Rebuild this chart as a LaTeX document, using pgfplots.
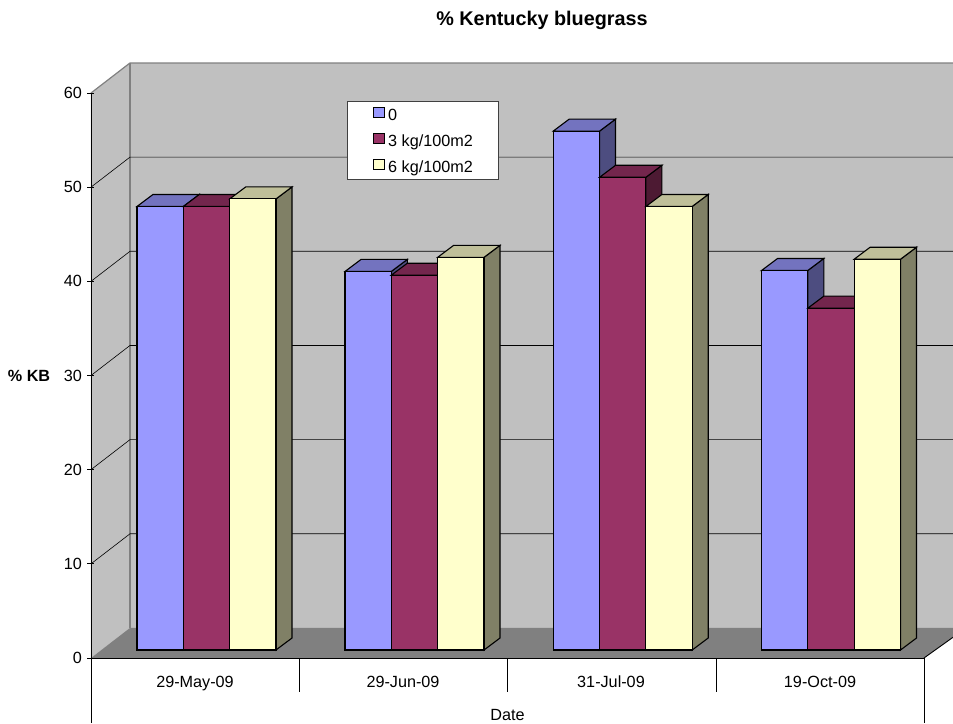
\documentclass[border=0pt]{standalone}
\usepackage{fontspec}
\setmainfont{Liberation Sans}
\usepackage{pgfplots}
\pgfplotsset{compat=1.18}

\definecolor{bluefront}{HTML}{9999FF}
\definecolor{bluetop}{HTML}{7373BF}
\definecolor{blueside}{HTML}{4D4D80}
\definecolor{wine}{HTML}{993366}
\definecolor{winetop}{HTML}{73264D}
\definecolor{wineside}{HTML}{4D1A33}
\definecolor{creamfront}{HTML}{FFFFCC}
\definecolor{creamtop}{HTML}{BFBF99}
\definecolor{creamside}{HTML}{808066}
\definecolor{wall}{HTML}{C0C0C0}
\definecolor{floorgrey}{HTML}{808080}
\colorlet{winefront}{wine}

% depth of a bar (16 x-units, 12 px = 1.274 y-units); bars stand 0.85 above the front plane
\newcommand{\drawbar}[3]{% left edge, value, colour stem
  \pgfmathsetmacro\xl{#1}
  \pgfmathsetmacro\xr{#1+46.3}
  \pgfmathsetmacro\xld{#1+16}
  \pgfmathsetmacro\xrd{#1+46.3+16}
  \pgfmathsetmacro\yb{0.85}
  \pgfmathsetmacro\yt{#2+0.85}
  \pgfmathsetmacro\ybd{0.85+1.274}
  \pgfmathsetmacro\ytd{#2+0.85+1.274}
  \edef\barpaths{%
    \noexpand\addplot[forget plot,draw=black,line width=1.1pt,line join=miter,fill=#3side]
      coordinates {(\xr,\yb)(\xrd,\ybd)(\xrd,\ytd)(\xr,\yt)} --cycle;
    \noexpand\addplot[forget plot,draw=black,line width=1.1pt,line join=miter,fill=#3top]
      coordinates {(\xl,\yt)(\xr,\yt)(\xrd,\ytd)(\xld,\ytd)} --cycle;
    \noexpand\addplot[forget plot,draw=black,line width=1.1pt,line join=miter,fill=#3front]
      coordinates {(\xl,\yb)(\xr,\yb)(\xr,\yt)(\xl,\yt)} --cycle;
  }%
  \barpaths
}
% legend text cell of fixed width and height
\newcommand{\legtext}[1]{\makebox[105pt][l]{\rule[-2.5pt]{0pt}{16.5pt}#1}}

\begin{document}
\begin{tikzpicture}
\useasboundingbox (-91pt,-65pt) rectangle (862pt,658pt);
\begin{axis}[
  at={(0,0)}, anchor=south west,
  scale only axis, width=862pt, height=565pt,
  xmin=91, xmax=953, ymin=0, ymax=60,
  clip=false, axis on top,
  axis y line=left, axis x line=bottom,
  x axis line style={draw=none,-},
  y axis line style={-,black,line width=0.9pt},
  ytick={0,10,...,60},
  major tick length=7pt,
  ytick style={black,line width=0.9pt},
  xtick={195,403,611,820},
  xticklabels={29-May-09,29-Jun-09,31-Jul-09,19-Oct-09},
  xtick style={draw=none},
  tick label style={font=\fontsize{16.2}{18}\selectfont},
  x tick label style={yshift=-11pt},
  /pgf/number format/assume math mode=true,
  yticklabel style={xshift=-2pt},
  title={\bfseries\fontsize{19.8}{22}\selectfont \% Kentucky bluegrass},
  title style={at={(axis description cs:0.5232,1.1185)},anchor=center},
  xlabel={Date},
  xlabel style={at={(axis description cs:0.4832,-0.1009)},anchor=center,font=\fontsize{16.2}{18}\selectfont},
  ylabel={\bfseries \% KB},
  ylabel style={at={(axis description cs:-0.0719,0.5)},anchor=center,rotate=-90,font=\fontsize{16.2}{18}\selectfont},
  legend cell align=left,
  legend style={at={(axis cs:347,59.15)},anchor=north west,draw=black!75,fill=white,line width=0.8pt,
    inner xsep=3pt,inner ysep=3.5pt,font=\fontsize{16.2}{18}\selectfont,row sep=6.5pt,
    /tikz/every even column/.append style={column sep=0pt}},
  legend image code/.code={\path (0pt,0pt) (35pt,0pt);\draw[#1,draw=black,line width=0.9pt] (23pt,-3pt) rectangle (34pt,7pt);},
]
% side wall, back wall and floor
\addplot[forget plot,draw=none,fill=wall] coordinates {(91,0)(130,3.08)(130,63.19)(91,60)} --cycle;
\addplot[forget plot,draw=none,fill=wall] coordinates {(130,3.19)(953,3.19)(953,63.19)(130,63.19)} --cycle;
\addplot[forget plot,draw=none,fill=floorgrey] coordinates {(91,0)(924,0)(953,2.2)(953,3.19)(130,3.19)} --cycle;
% wall edges
\addplot[forget plot,color=floorgrey,line width=1.2pt] coordinates {(91,60)(130,63.19)(953,63.19)};
\addplot[forget plot,color=floorgrey,line width=1.2pt] coordinates {(130,63.19)(130,3.19)};
% grid lines along the side wall and the back wall
\addplot[forget plot,black,line width=0.6pt] coordinates {(91,10)(130,13.19)(953,13.19)};
\addplot[forget plot,black,line width=0.6pt] coordinates {(91,20)(130,23.19)(953,23.19)};
\addplot[forget plot,black,line width=0.6pt] coordinates {(91,30)(130,33.19)(953,33.19)};
\addplot[forget plot,black,line width=0.6pt] coordinates {(91,40)(130,43.19)(953,43.19)};
\addplot[forget plot,black,line width=0.6pt] coordinates {(91,50)(130,53.19)(953,53.19)};
% front edge and the category frame below it
\addplot[forget plot,black,line width=0.9pt] coordinates {(91,0)(924,0)};
\addplot[forget plot,black,line width=0.9pt] coordinates {(924,0)(953,2.2)};
\addplot[forget plot,black,line width=0.8pt] coordinates {(91,0)(91,-6.9)};
\addplot[forget plot,black,line width=0.8pt] coordinates {(299,0)(299,-3.6)};
\addplot[forget plot,black,line width=0.8pt] coordinates {(507,0)(507,-3.6)};
\addplot[forget plot,black,line width=0.8pt] coordinates {(716,0)(716,-3.6)};
\addplot[forget plot,black,line width=0.8pt] coordinates {(924,0)(924,-6.9)};
% bars: 29-May-09
\drawbar{137}{47.1}{blue}
\drawbar{183.3}{47.1}{wine}
\drawbar{229.7}{47.9}{cream}
% bars: 29-Jun-09
\drawbar{345}{40.2}{blue}
\drawbar{391.3}{39.8}{wine}
\drawbar{437.7}{41.7}{cream}
% bars: 31-Jul-09
\drawbar{553.2}{55.1}{blue}
\drawbar{599.6}{50.2}{wine}
\drawbar{645.9}{47.1}{cream}
% bars: 19-Oct-09
\drawbar{761.5}{40.3}{blue}
\drawbar{807.8}{36.3}{wine}
\drawbar{854.2}{41.5}{cream}
% legend
\addlegendimage{fill=bluefront}
\addlegendentry{\legtext{0}}
\addlegendimage{fill=wine}
\addlegendentry{\legtext{3 kg/100m2}}
\addlegendimage{fill=creamfront}
\addlegendentry{\legtext{6 kg/100m2}}
\end{axis}
\end{tikzpicture}
\end{document}
